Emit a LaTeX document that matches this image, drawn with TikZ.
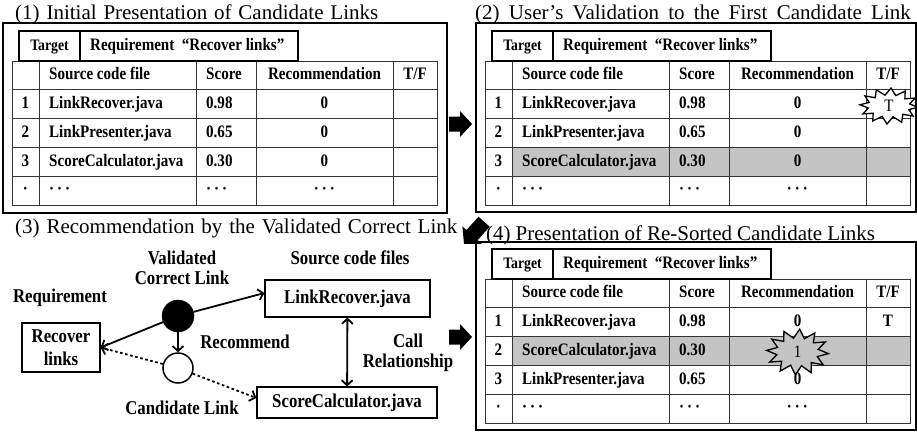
\documentclass[tikz,border=0pt]{standalone}
\usepackage{fontspec}
\setmainfont{Liberation Serif}
\newfontfamily\titlefont{Liberation Serif}[WordSpace=1.3]
\newfontfamily\cfont{Liberation Serif}[FakeStretch=0.86]
\usetikzlibrary{arrows.meta}
\definecolor{rowgrey}{RGB}{196,196,196}
\newcommand\tdots{·\hspace{3pt}·\hspace{3pt}·}
\newcommand\cltab{%
  \draw[gridline] (0,0) rectangle (425,144);
  \foreach \cx in {27,184,244,381} \draw[gridline] (\cx,0) -- (\cx,144);
  \foreach \ry in {28.8,57.6,86.4,115.2} \draw[gridline] (0,\ry) -- (425,\ry);
}
\newcommand\cltarget[1]{%
  \draw[targetbox] (7,-30) rectangle (286,0);
  \draw[targetbox] (68,-30) -- (68,0);
  \node[cell, font=\fontsize{16}{16}\cfont\bfseries] (#1tg) at (37.5,-15) {Target};
  \node[cell,anchor=west] (#1rq) at (78,-15) {Requirement\ \ “Recover links”};
}
\newcommand\clrow[7]{%
  \node[cell] (#1n#2) at (13.5,{14.4+28.8*#2}) {#3};
  \node[cell,anchor=west] (#1f#2) at (37,{14.4+28.8*#2}) {#4};
  \node[cell,anchor=west] (#1s#2) at (194,{14.4+28.8*#2}) {#5};
  \node[cell] (#1r#2) at (312.5,{14.4+28.8*#2}) {#6};
  \node[cell] (#1t#2) at (403,{14.4+28.8*#2}) {#7};
}
% burst: #1 centre, #2 fill, #3 outer rx, #4 inner rx, #5 outer ry, #6 inner ry
\newcommand\burst[6]{%
  \draw[line width=1.3pt, line join=miter, fill=#2, shift={#1}]
    plot[samples at={0,1,...,23}, variable=\k]
      ({(#4+(#3-#4)*(1-mod(\k,2)))*cos(15*\k+4)}, {(#6+(#5-#6)*(1-mod(\k,2)))*sin(15*\k+4)}) -- cycle;
}
\newcommand\blockarrow[3]{%
  \fill[shift={#1}, rotate=#2] (0,0) -- (-12,-13) -- (-12,-7.5) -- (-#3,-7.5) -- (-#3,7.5) -- (-12,7.5) -- (-12,13) -- cycle;
}
\tikzset{
  outerbox/.style={draw, line width=1.8pt},
  targetbox/.style={draw, line width=2.6pt},
  gridline/.style={draw, line width=0.9pt, color=black!80},
  cell/.style={inner sep=0pt, font=\fontsize{17.5}{17.5}\cfont\bfseries, text height=12pt, text depth=3.5pt},
  ttl/.style={inner sep=0pt, anchor=base west, font=\fontsize{21}{21}\selectfont\titlefont},
  lbl/.style={inner sep=0pt, font=\fontsize{19.5}{20}\cfont\bfseries, align=center},
  fbox/.style={draw, line width=1.2pt, inner sep=0pt, font=\fontsize{19.5}{23}\cfont\bfseries, align=center},
  bursttext/.style={inner sep=0pt, font=\fontsize{17.5}{17.5}\cfont},
  link/.style={line width=1.8pt, -{Straight Barb[length=5pt,width=11pt,line width=1.8pt]}},
  dlink/.style={link, dash pattern=on 2.6pt off 2.6pt},
  dblink/.style={line width=1.8pt, {Straight Barb[length=5pt,width=11pt,line width=1.8pt]}-{Straight Barb[length=5pt,width=11pt,line width=1.8pt]}}
}
\begin{document}
\begin{tikzpicture}[x=1pt,y=-1pt]
\useasboundingbox (0,0) rectangle (917,433);

% ---------- Panel 1 ----------
\node[ttl] (t1) at (15,20) {(1) Initial Presentation of Candidate Links};
\draw[outerbox] (3,23) rectangle (447,213);
\begin{scope}[shift={(12,61)}]
  \cltab
  \cltarget{a}
  \clrow{a}{0}{}{Source code file}{Score}{Recommendation}{T/F}
  \clrow{a}{1}{1}{LinkRecover.java}{0.98}{0}{}
  \clrow{a}{2}{2}{LinkPresenter.java}{0.65}{0}{}
  \clrow{a}{3}{3}{ScoreCalculator.java}{0.30}{0}{}
  \clrow{a}{4}{·}{\tdots}{\tdots}{\tdots}{}
\end{scope}

% ---------- Panel 2 ----------
\node[ttl] (t2) at (475,20) {\spaceskip=9.3pt (2) User’s Validation to the First Candidate Link};
\draw[outerbox] (476,23) rectangle (916,212);
\begin{scope}[shift={(485,61)}]
  \fill[rowgrey] (27,86.4) rectangle (425,115.2);
  \cltab
  \cltarget{b}
  \clrow{b}{0}{}{Source code file}{Score}{Recommendation}{T/F}
  \clrow{b}{1}{1}{LinkRecover.java}{0.98}{0}{}
  \clrow{b}{2}{2}{LinkPresenter.java}{0.65}{0}{}
  \clrow{b}{3}{3}{ScoreCalculator.java}{0.30}{0}{}
  \clrow{b}{4}{·}{\tdots}{\tdots}{\tdots}{}
  \burst{(404,45)}{white}{29}{21}{18}{11}
  \node[bursttext] (bT) at (404,45) {T};
\end{scope}

% ---------- Panel 4 ----------
\node[ttl] (t4) at (486,240) {\spaceskip=5pt (4) Presentation of Re-Sorted Candidate Links};
\draw[outerbox] (476,242) rectangle (916,430);
\begin{scope}[shift={(485,279)}]
  \fill[rowgrey] (27,57.6) rectangle (425,86.4);
  \cltab
  \cltarget{d}
  \clrow{d}{0}{}{Source code file}{Score}{Recommendation}{T/F}
  \clrow{d}{1}{1}{LinkRecover.java}{0.98}{0}{T}
  \clrow{d}{2}{2}{ScoreCalculator.java}{0.30}{}{}
  \clrow{d}{3}{3}{LinkPresenter.java}{0.65}{0}{}
  \clrow{d}{4}{·}{\tdots}{\tdots}{\tdots}{}
  \burst{(312.5,73)}{rowgrey}{31}{21}{23}{14}
  \node[bursttext] (b1) at (312.5,73) {1};
\end{scope}

% ---------- Panel 3 ----------
\node[ttl] (t3) at (15,233) {(3) Recommendation by the Validated Correct Link};
\node[lbl] (lv) at (182,267.5) {Validated\\Correct Link};
\node[lbl] (ls) at (350,258) {Source code files};
\node[lbl] (lr) at (60,298) {Requirement};
\node[fbox, minimum width=165pt, minimum height=37pt] (blr) at (347.5,298.5) {LinkRecover.java};
\node[circle, fill=black, draw, minimum size=32pt, inner sep=0pt] (bc) at (178,316) {};
\node[fbox, minimum width=78pt, minimum height=49pt] (brl) at (61,347.5) {Recover\\links};
\node[lbl] (lrec) at (245,342) {Recommend};
\node[circle, draw, line width=1.5pt, minimum size=30pt, inner sep=0pt] (wc) at (178,368) {};
\node[lbl] (lcall) at (408,352.5) {Call\\Relationship};
\node[fbox, minimum width=180pt, minimum height=31pt] (bsc) at (347,402.5) {ScoreCalculator.java};
\node[lbl] (lcand) at (182,408) {Candidate Link};

\draw[link] (bc) -- (brl.east);
\draw[link] (bc) -- ([yshift=5.5pt]blr.west);
\draw[link] (bc) -- (wc);
\draw[dlink] (wc) -- (brl.east);
\draw[dlink] (wc) -- ([yshift=4.5pt]bsc.west);
\draw[dblink] (blr) -- (bsc);

% ---------- Block arrows between panels ----------
\blockarrow{(472,124)}{0}{23}
\blockarrow{(472,337)}{0}{23}
\blockarrow{(464,244)}{228}{30}
\end{tikzpicture}
\end{document}
